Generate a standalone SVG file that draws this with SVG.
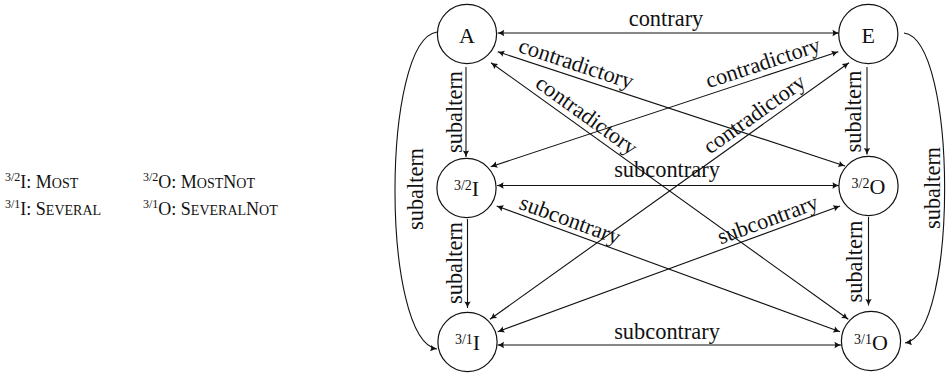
<svg xmlns="http://www.w3.org/2000/svg" width="947" height="375" viewBox="0 0 947 375">
  <style>
    text { font-family: "Liberation Serif", "Times New Roman", serif; fill: #111; }
    .lg { font-size: 18px; }
    .lg .sup { font-size: 12px; }
    .lg .sc { font-size: 14px; }
    .node circle { fill: #fff; stroke: #111; stroke-width: 1.2; }
    .node text { font-size: 22px; text-anchor: middle; }
    .node .sup { font-size: 14px; }
    .edge { fill: none; stroke: #111; stroke-width: 1.1; }
    .both { marker-start: url(#arr); marker-end: url(#arr); }
    .one { marker-end: url(#arr); }
    .lbl { font-size: 22.4px; text-anchor: middle; }
  </style>
  <defs>
    <marker id="arr" viewBox="-8 -4 9 8" markerWidth="9" markerHeight="8" refX="0" refY="0" orient="auto-start-reverse" markerUnits="userSpaceOnUse">
      <path d="M0,0 Q-3,-0.8 -6.5,-3.2 Q-5,0 -6.5,3.2 Q-3,0.8 0,0 Z" fill="#111"/>
    </marker>
  </defs>
  <rect width="947" height="375" fill="#fff"/>

  <!-- legend -->
  <g id="legend">
    <text class="lg" x="5" y="188"><tspan class="sup" dy="-7">3/2</tspan><tspan dy="7">I: M</tspan><tspan class="sc">OST</tspan></text>
    <text class="lg" x="5" y="215"><tspan class="sup" dy="-7">3/1</tspan><tspan dy="7">I: S</tspan><tspan class="sc">EVERAL</tspan></text>
    <text class="lg" x="143" y="188"><tspan class="sup" dy="-7">3/2</tspan><tspan dy="7">O: M</tspan><tspan class="sc">OST</tspan><tspan>N</tspan><tspan class="sc">OT</tspan></text>
    <text class="lg" x="143" y="215"><tspan class="sup" dy="-7">3/1</tspan><tspan dy="7">O: S</tspan><tspan class="sc">EVERAL</tspan><tspan>N</tspan><tspan class="sc">OT</tspan></text>
  </g>

  <!-- connectors -->
  <g id="connectors">
    <!-- horizontal relations -->
    <path class="edge both" d="M497.7,33 L839,33"/>
    <path class="edge both" d="M497,185.5 L839,185.5"/>
    <path class="edge both" d="M497.5,345 L841,345"/>
    <!-- vertical subalterns -->
    <path class="edge one" d="M466,67 L466,157"/>
    <path class="edge one" d="M467.5,219 L467.5,308"/>
    <path class="edge one" d="M867,67 L867,154.5"/>
    <path class="edge one" d="M868.5,217 L868.5,305.5"/>
    <!-- outer subalterns -->
    <path class="edge one" d="M437,32 C381,40 381,341 437,349"/>
    <path class="edge one" d="M904,33 C958,40 958,335 905,343"/>
    <!-- diagonals -->
    <path class="edge both" d="M497.7,51.7 L845,166"/>
    <path class="edge both" d="M838.3,51.7 L490.7,166.7"/>
    <path class="edge both" d="M491,62.7 L848.3,319.3"/>
    <path class="edge both" d="M849,62.7 L490,319.3"/>
    <path class="edge both" d="M496.7,206 L840,331.7"/>
    <path class="edge both" d="M840,206 L497.7,331.7"/>

    <!-- labels -->
    <text class="lbl" x="666" y="26">contrary</text>
    <text class="lbl" x="667" y="177">subcontrary</text>
    <text class="lbl" x="667" y="338.5">subcontrary</text>

    <text class="lbl" transform="translate(461.5,112) rotate(-90)">subaltern</text>
    <text class="lbl" transform="translate(462,263) rotate(-90)">subaltern</text>
    <text class="lbl" transform="translate(861,111.5) rotate(-90)">subaltern</text>
    <text class="lbl" transform="translate(862,261.5) rotate(-90)">subaltern</text>
    <text class="lbl" transform="translate(423,189) rotate(-90)">subaltern</text>
    <text class="lbl" transform="translate(940,188) rotate(-90)">subaltern</text>

    <text class="lbl" transform="translate(572,76.1) rotate(18.2)" y="-6">contradictory</text>
    <text class="lbl" transform="translate(767,75.3) rotate(-18.3)" y="-6">contradictory</text>
    <text class="lbl" transform="translate(579,126) rotate(35.7)" y="-6">contradictory</text>
    <text class="lbl" transform="translate(762,124.9) rotate(-35.6)" y="-6">contradictory</text>
    <text class="lbl" transform="translate(566,231.3) rotate(20.1)" y="-5">subcontrary</text>
    <text class="lbl" transform="translate(772,231) rotate(-20.2)" y="-5">subcontrary</text>
  </g>

  <!-- nodes -->
  <g id="node-A" class="node">
    <circle cx="467" cy="34" r="29.6"/>
    <text x="467" y="42.5">A</text>
  </g>
  <g id="node-E" class="node">
    <circle cx="868.3" cy="34" r="29.6"/>
    <text x="868.3" y="42.5">E</text>
  </g>
  <g id="node-I32" class="node">
    <circle cx="466.5" cy="188" r="29.6"/>
    <text x="466.5" y="195.7"><tspan class="sup" dy="-6">3/2</tspan><tspan dy="6">I</tspan></text>
  </g>
  <g id="node-O32" class="node">
    <circle cx="868.5" cy="186" r="29.6"/>
    <text x="868.5" y="193.7"><tspan class="sup" dy="-6">3/2</tspan><tspan dy="6">O</tspan></text>
  </g>
  <g id="node-I31" class="node">
    <circle cx="467.5" cy="342" r="29.6"/>
    <text x="467.5" y="349.7"><tspan class="sup" dy="-6">3/1</tspan><tspan dy="6">I</tspan></text>
  </g>
  <g id="node-O31" class="node">
    <circle cx="871" cy="341" r="29.6"/>
    <text x="871" y="349.7"><tspan class="sup" dy="-6">3/1</tspan><tspan dy="6">O</tspan></text>
  </g>
</svg>
